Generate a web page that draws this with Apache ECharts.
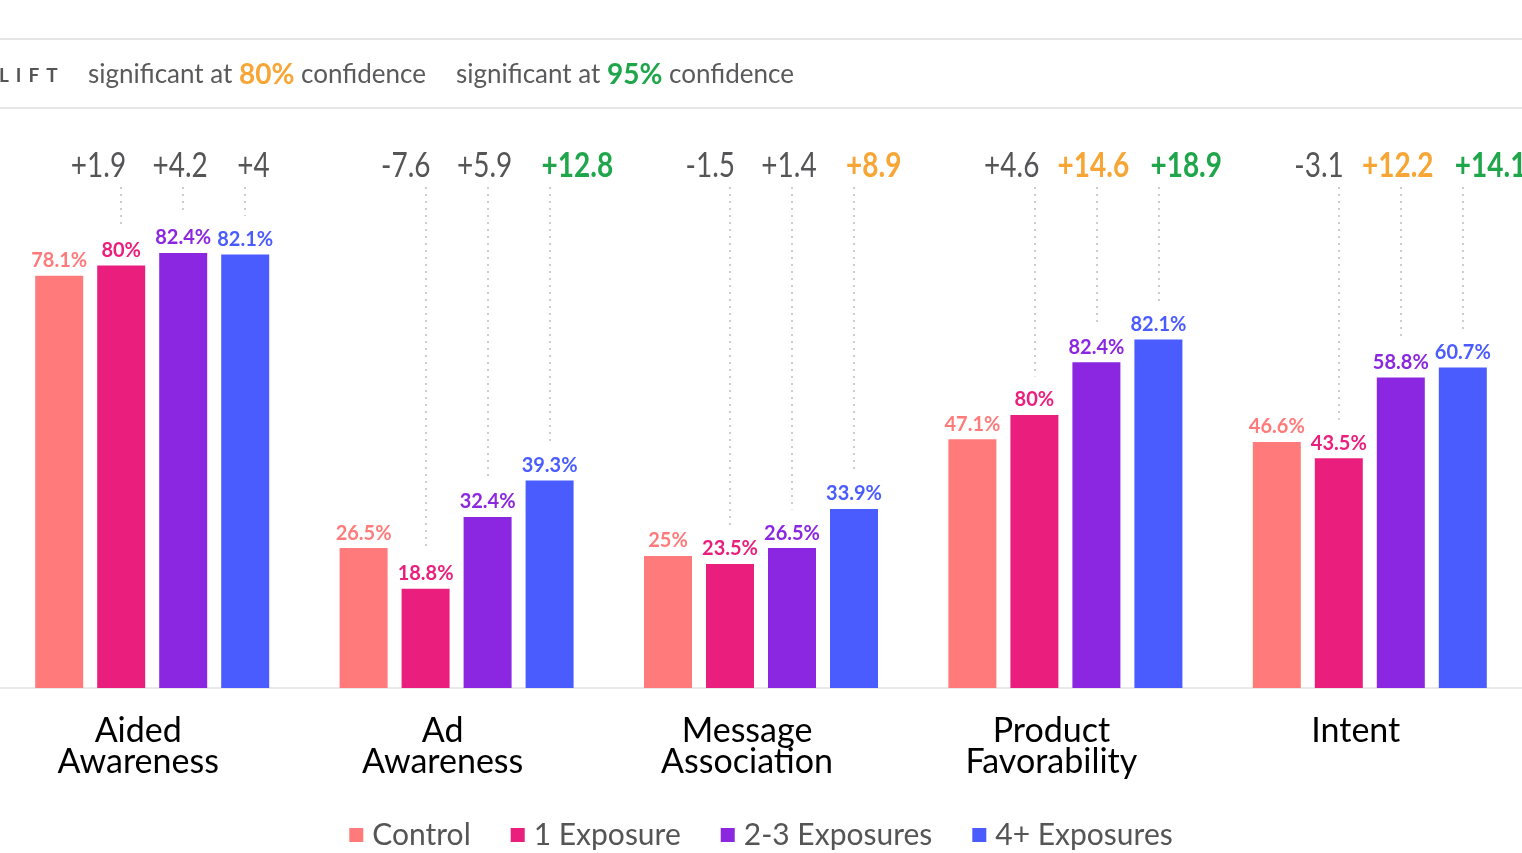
<!DOCTYPE html>
<html><head><meta charset="utf-8">
<script src="https://cdn.jsdelivr.net/npm/echarts@6/dist/echarts.min.js"></script>
<style>html,body{margin:0;padding:0;background:#fff}#c{width:1522px;height:853px}</style>
</head><body><div id="c"></div>
<script>
const categories = ['Aided\nAwareness', 'Ad\nAwareness', 'Message\nAssociation', 'Product\nFavorability', 'Intent'];
const seriesNames = ['Control', '1 Exposure', '2-3 Exposures', '4+ Exposures'];
// bar heights as drawn
const control = [78.1, 26.5, 25, 47.1, 46.6];
const exposure1 = [80, 18.8, 23.5, 51.7, 43.5];
const exposure23 = [82.4, 32.4, 26.5, 61.7, 58.8];
const exposure4 = [82.1, 39.3, 33.9, 66.0, 60.7];
// value labels as printed
const controlText = ['78.1%', '26.5%', '25%', '47.1%', '46.6%'];
const exposure1Text = ['80%', '18.8%', '23.5%', '80%', '43.5%'];
const exposure23Text = ['82.4%', '32.4%', '26.5%', '82.4%', '58.8%'];
const exposure4Text = ['82.1%', '39.3%', '33.9%', '82.1%', '60.7%'];
// lift labels and significance level (0 = none)
const lift1 = ['+1.9', '-7.6', '-1.5', '+4.6', '-3.1'];
const lift23 = ['+4.2', '+5.9', '+1.4', '+14.6', '+12.2'];
const lift4 = ['+4', '+12.8', '+8.9', '+18.9', '+14.1'];
const sig1 = [0, 0, 0, 0, 0];
const sig23 = [0, 0, 0, 80, 80];
const sig4 = [0, 95, 80, 95, 95];

const FONT = 'Lato';
const colors = ['#ff7b7b', '#ea1f7d', '#8b27e1', '#4b5cff'];
const sigColor = {0: '#555557', 80: '#f7a534', 95: '#1fa64a'};
const BAR_W = 48, BAR_GAP = 14;
const LIFT_Y = 98.9, LINE_TOP = 94.9, LINE_GAP = 7.3;

function barSeries(idx, values, texts) {
  const color = colors[idx];
  const s = {
    type: 'bar', name: seriesNames[idx], data: values,
    barWidth: BAR_W, barGap: (BAR_GAP / BAR_W * 100) + '%',
    itemStyle: {color},
    label: {show: true, position: 'top', distance: 5, color, fontWeight: 'bold',
            fontSize: 20, fontFamily: FONT, formatter: p => texts[p.dataIndex]}
  };
  if (idx > 0) {
    s.markLine = {
      symbol: ['none', 'none'], silent: true, animation: false,
      lineStyle: {type: [2, 5], color: '#bdbdbd', width: 1.5},
      label: {show: false},
      data: values.map((v, i) => [{coord: [i, LINE_TOP]}, {coord: [i, v + LINE_GAP]}])
    };
  }
  return s;
}

// lift label rows: [slot, texts, significance, align, dx]
const liftRows = [
  [1, lift1, sig1, 'right', 5],
  [2, lift23, sig23, 'center', -3],
  [3, lift4, sig4, 'left', -8]
];
const liftData = [];
liftRows.forEach(([slot, texts, sigs, align, dx]) => {
  texts.forEach((t, i) => liftData.push([i, LIFT_Y, slot, liftData.length]));
});
const liftMeta = [];
liftRows.forEach(([slot, texts, sigs, align, dx]) => {
  texts.forEach((t, i) => liftMeta.push({text: t, sig: sigs[i], align, dx}));
});

const liftSeries = {
  type: 'custom', silent: true, z: 5,
  data: liftData,
  encode: {x: 0, y: 1},
  renderItem: (params, api) => {
    const p = api.coord([api.value(0), api.value(1)]);
    const slot = api.value(2);
    const m = liftMeta[api.value(3)];
    const x = p[0] + (slot - 1.5) * (BAR_W + BAR_GAP) + m.dx;
    return {
      type: 'text', x: x, y: p[1], scaleX: 0.8,
      style: {
        x: 0, y: 0, text: m.text, textAlign: m.align, textVerticalAlign: 'middle',
        fontFamily: FONT, fontSize: 35, fontWeight: m.sig ? 'bold' : 'normal',
        fill: sigColor[m.sig]
      }
    };
  }
};

const chart = echarts.init(document.getElementById('c'));
chart.setOption({
  animation: false,
  backgroundColor: '#fff',
  grid: {left: 0, right: -3, top: 160, bottom: 165},
  xAxis: {
    type: 'category', data: categories,
    axisLine: {lineStyle: {color: '#e9e9e9', width: 2}},
    axisTick: {show: false},
    axisLabel: {fontSize: 34, color: '#000', lineHeight: 31, margin: 28, fontFamily: FONT,
                padding: [0, 28, 0, 0]}
  },
  yAxis: {type: 'value', min: 0, max: 100, show: false},
  legend: {
    bottom: -2, left: 'center', icon: 'rect', itemWidth: 14, itemHeight: 14, itemGap: 40,
    textStyle: {fontSize: 30, color: '#555', fontFamily: FONT, padding: [0, 0, 0, 4]},
    data: seriesNames
  },
  graphic: [
    {type: 'rect', shape: {x: 0, y: 38, width: 1522, height: 2}, style: {fill: '#e6e6e6'}, silent: true},
    {type: 'rect', shape: {x: 0, y: 107, width: 1522, height: 2}, style: {fill: '#e6e6e6'}, silent: true},
    {type: 'text', left: -1, top: 66, silent: true, style: {
      text: '{l|L}{l|I}{l|F}{l|T}',
      rich: {l: {fontFamily: FONT, fontSize: 19, fontWeight: 'bold', fill: '#555', padding: [0, 3.5]}}
    }},
    {type: 'text', left: 88, top: 61, silent: true, style: {
      text: 'significant at {o|80%} confidence',
      fontFamily: FONT, fontSize: 26, fill: '#5a5a5c',
      rich: {o: {fontFamily: FONT, fontSize: 28, fontWeight: 'bold', fill: '#f7a534'}}
    }},
    {type: 'text', left: 456, top: 61, silent: true, style: {
      text: 'significant at {g|95%} confidence',
      fontFamily: FONT, fontSize: 26, fill: '#5a5a5c',
      rich: {g: {fontFamily: FONT, fontSize: 28, fontWeight: 'bold', fill: '#1fa64a'}}
    }}
  ],
  series: [
    barSeries(0, control, controlText),
    barSeries(1, exposure1, exposure1Text),
    barSeries(2, exposure23, exposure23Text),
    barSeries(3, exposure4, exposure4Text),
    liftSeries
  ]
});
</script></body></html>
